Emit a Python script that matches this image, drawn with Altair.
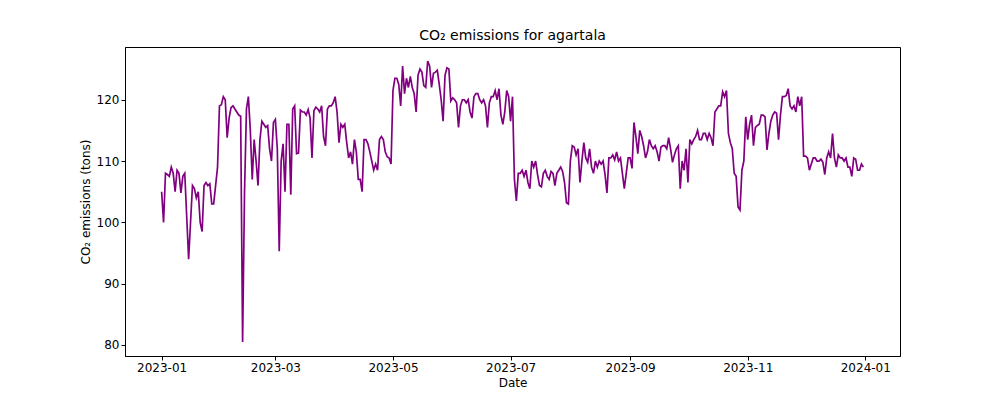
import altair as alt
import pandas as pd

jan = [105, 100, 108, 107.8, 107.5, 109, 108, 105, 108.5, 108, 104.8, 107.5, 108, 101, 94, 100, 106, 105.5, 104, 105, 100, 98.5, 106, 106.5, 106, 106.3, 103, 103, 106, 109, 119]
feb = [119.2, 120.5, 120, 113.8, 117, 118.7, 119, 118.5, 118, 117.5, 117.3, 80.5, 105, 118.5, 120.5, 115, 107, 113.5, 110, 106, 113.5, 116.5, 116, 115.5, 115.8, 112, 110, 116.3]
mar = [116.8, 112, 95.3, 110, 112.8, 105, 116, 116, 104.5, 118.5, 119, 111.2, 111.3, 118.3, 118, 118, 117.5, 118.4, 117, 110.5, 118.2, 118.8, 118.5, 118, 119, 114, 112.5, 118.5, 119, 119, 119.5]
apr = [120.5, 118, 113, 116, 115.5, 116, 113, 110.5, 111.5, 109.5, 113.5, 111.5, 107, 107, 105, 113.5, 113.5, 112.8, 111.5, 110, 108.5, 109.5, 108.5, 113.5, 114, 113.5, 111.5, 110.7, 110.5, 109.5]
may = [121.5, 123.5, 123.5, 122.5, 119, 125.5, 121, 123.5, 122, 123.8, 122, 121, 118, 124, 125, 124.5, 122.3, 122, 126.3, 125.5, 122, 124.3, 124.5, 124.8, 122.5, 120, 116.5, 124, 125.2, 125, 119.8]
jun = [120.3, 120, 119.5, 115.5, 119, 120, 120, 119.5, 120, 118, 117, 120.5, 121, 121, 120, 119.5, 120, 119, 115.5, 119.5, 120.5, 120.5, 121.5, 120, 121.8, 117.5, 116, 118, 121.5, 120.5]
jul = [116.5, 120.5, 107, 103.5, 108, 108, 108.5, 107.5, 108.5, 106.5, 105.5, 110, 109, 110, 107.8, 106, 105.8, 108, 108.5, 107.5, 107, 108.3, 108, 106, 108, 108.5, 109, 108.3, 106.5, 103.2, 103]
aug = [110, 112.5, 112.3, 111, 112, 106.5, 110, 113, 110.5, 109.8, 112, 109, 108, 110, 109, 110, 109.5, 110, 107.8, 104.8, 110.5, 110.5, 111, 110.2, 111.5, 110, 110.5, 108, 105.5, 108, 110.5]
sep = [110.5, 108.8, 116.3, 114, 111.2, 115, 114, 112.5, 110.5, 111.5, 113.5, 112.5, 112, 112.5, 111.5, 110, 112.3, 112.5, 112.5, 112, 113.8, 112, 109.8, 111, 112, 112.5, 105.5, 110, 108.5, 112]
oct_ = [106.5, 113.5, 112.8, 113.5, 114, 115, 113.5, 113.5, 114.5, 114.5, 113.5, 114.5, 113.8, 112.5, 118, 118.5, 119, 119, 121.3, 120.5, 121.5, 114.5, 113, 112, 108, 107.5, 102.5, 102, 108.5, 110, 117.2]
nov = [113.5, 116, 117.5, 112.5, 115.5, 115.8, 116, 117.5, 117.5, 117.2, 111.8, 114.5, 116.5, 117.5, 118, 117.8, 113.5, 117.5, 120.5, 120.5, 120.7, 121.8, 119, 118.5, 119, 118, 120.5, 119, 120.5, 110.8]
dec = [110.8, 110.5, 108.5, 109.5, 110.5, 110.5, 110, 110, 110.3, 109.8, 107.8, 110.5, 111.5, 110.5, 114.5, 110.5, 109, 111, 110.5, 110.5, 110, 110.5, 109, 109, 107.5, 110.5, 110.3, 108.5, 108.5, 109.5, 109]

months = [jan, feb, mar, apr, may, jun, jul, aug, sep, oct_, nov, dec]
rows = []
for i, vals in enumerate(months):
    dates = pd.date_range(f"2023-{i+1:02d}-01", periods=len(vals), freq="D")
    rows += [{"Date": d.strftime("%Y-%m-%d"), "value": v} for d, v in zip(dates, vals)]
df = pd.DataFrame(rows)

tick_dates = ["2023-01-01", "2023-03-01", "2023-05-01", "2023-07-01", "2023-09-01", "2023-11-01", "2024-01-01"]
tick_vals = [pd.Timestamp(t).value // 10**6 for t in tick_dates]

chart = alt.Chart(df).mark_line(color="purple", strokeWidth=1.7).encode(
    x=alt.X("Date:T", title="Date",
            scale=alt.Scale(domain=["2022-12-13", "2024-01-19"]),
            axis=alt.Axis(values=tick_vals, format="%Y-%m", grid=False, labelAngle=0)),
    y=alt.Y("value:Q", title="CO₂ emissions (tons)",
            scale=alt.Scale(domain=[78.2, 128.6], nice=False, zero=False),
            axis=alt.Axis(values=[80, 90, 100, 110, 120], grid=False)),
).properties(
    width=775, height=309,
    title=alt.TitleParams("CO₂ emissions for agartala", fontSize=14, fontWeight="normal", font="DejaVu Sans", color="black"),
    autosize=alt.AutoSizeParams(type="none"),
    padding={"left": 117, "top": 39, "right": 92, "bottom": 36},
).configure_view(stroke="black", strokeWidth=1).configure_axis(
    domainColor="black", tickColor="black", labelColor="black", titleColor="black",
    labelFont="DejaVu Sans", titleFont="DejaVu Sans", labelFontSize=12, titleFontSize=12,
    titleFontWeight="normal", tickSize=4,
)

chart.save("out.html", embed_options={"renderer": "svg", "actions": False})
